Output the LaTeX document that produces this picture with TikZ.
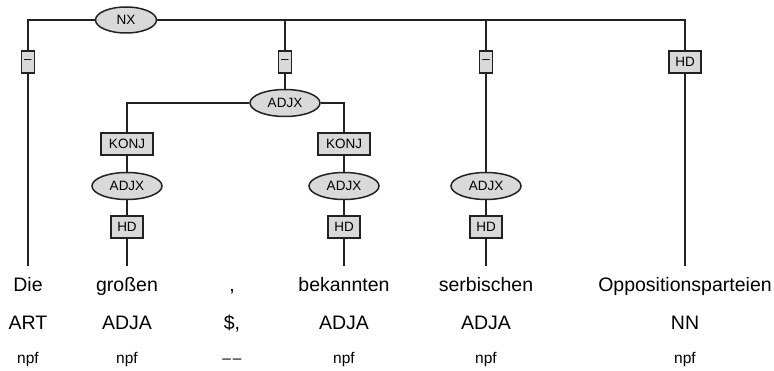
\documentclass[tikz,border=0pt]{standalone}
\usepackage{fontspec}
\setmainfont{Liberation Sans}
\usetikzlibrary{shapes.geometric}

\definecolor{nodegray}{HTML}{D9D9D9}
\definecolor{linegray}{HTML}{222222}

\begin{document}
\begin{tikzpicture}[
    x=1pt, y=-1pt,
    line width=1.5pt, draw=linegray,
    cat/.style={ellipse, draw, fill=nodegray, inner sep=0pt,
                minimum width=#1, minimum height=27pt, font=\fontsize{13.5}{15}\selectfont},
    cat/.default=70pt,
    edgebox/.style={rectangle, draw, fill=nodegray, inner xsep=2pt, inner ysep=0pt,
                    minimum width=#1, minimum height=22pt, font=\fontsize{13.5}{15}\selectfont},
    edgebox/.default=32pt,
    word/.style={anchor=base, text height=15pt, text depth=4pt, inner ysep=10pt,
                 font=\fontsize{19.5}{22}\selectfont},
    postag/.style={anchor=base, font=\fontsize{19.5}{22}\selectfont},
    morph/.style={anchor=base, font=\fontsize{15.5}{17}\selectfont}
  ]
  \useasboundingbox (0,0) rectangle (774,371);

  % terminals
  \node[word] (w1) at (28,292) {Die};
  \node[word] (w2) at (127,292) {großen};
  \node[word] (w3) at (232,292) {,};
  \node[word] (w4) at (344,292) {bekannten};
  \node[word] (w5) at (486,292) {serbischen};
  \node[word] (w6) at (685,292) {Oppositionsparteien};

  \node[postag] (p1) at (28,330) {ART};
  \node[postag] (p2) at (127,330) {ADJA};
  \node[postag] (p3) at (232,330) {\$,};
  \node[postag] (p4) at (344,330) {ADJA};
  \node[postag] (p5) at (486,330) {ADJA};
  \node[postag] (p6) at (685,330) {NN};

  \node[morph] (m1) at (28,363) {npf};
  \node[morph] (m2) at (127,363) {npf};
  \node[morph] (m3) at (232,363) {\textendash\hspace{2pt}\textendash};
  \node[morph] (m4) at (344,363) {npf};
  \node[morph] (m5) at (486,363) {npf};
  \node[morph] (m6) at (685,363) {npf};

  % phrases
  \node[cat=61pt, minimum height=26pt] (nx) at (126,20) {NX};
  \node[cat] (adjx0) at (285,103) {ADJX};
  \node[cat] (adjx1) at (127,186) {ADJX};
  \node[cat] (adjx2) at (344,186) {ADJX};
  \node[cat] (adjx3) at (486,186) {ADJX};

  % edge labels
  \node[edgebox=13pt] (d1) at (28,62) {\textendash};
  \node[edgebox=13pt] (d2) at (285,62) {\textendash};
  \node[edgebox=13pt] (d3) at (486,62) {\textendash};
  \node[edgebox] (hd0) at (685,62) {HD};
  \node[edgebox=52pt] (k1) at (127,144) {KONJ};
  \node[edgebox=52pt] (k2) at (344,144) {KONJ};
  \node[edgebox] (hd1) at (127,227) {HD};
  \node[edgebox] (hd2) at (344,227) {HD};
  \node[edgebox] (hd3) at (486,227) {HD};

  % edges
  \draw (nx.west) -| (d1);
  \draw (nx.east) -| (hd0);
  \draw (nx.east) -| (d2);
  \draw (nx.east) -| (d3);
  \draw (d1) -- (w1);
  \draw (d2) -- (adjx0);
  \draw (adjx0.west) -| (k1);
  \draw (adjx0.east) -| (k2);
  \draw (k1) -- (adjx1);
  \draw (adjx1) -- (hd1);
  \draw (hd1) -- (w2);
  \draw (k2) -- (adjx2);
  \draw (adjx2) -- (hd2);
  \draw (hd2) -- (w4);
  \draw (d3) -- (adjx3);
  \draw (adjx3) -- (hd3);
  \draw (hd3) -- (w5);
  \draw (hd0) -- (w6);
\end{tikzpicture}
\end{document}
